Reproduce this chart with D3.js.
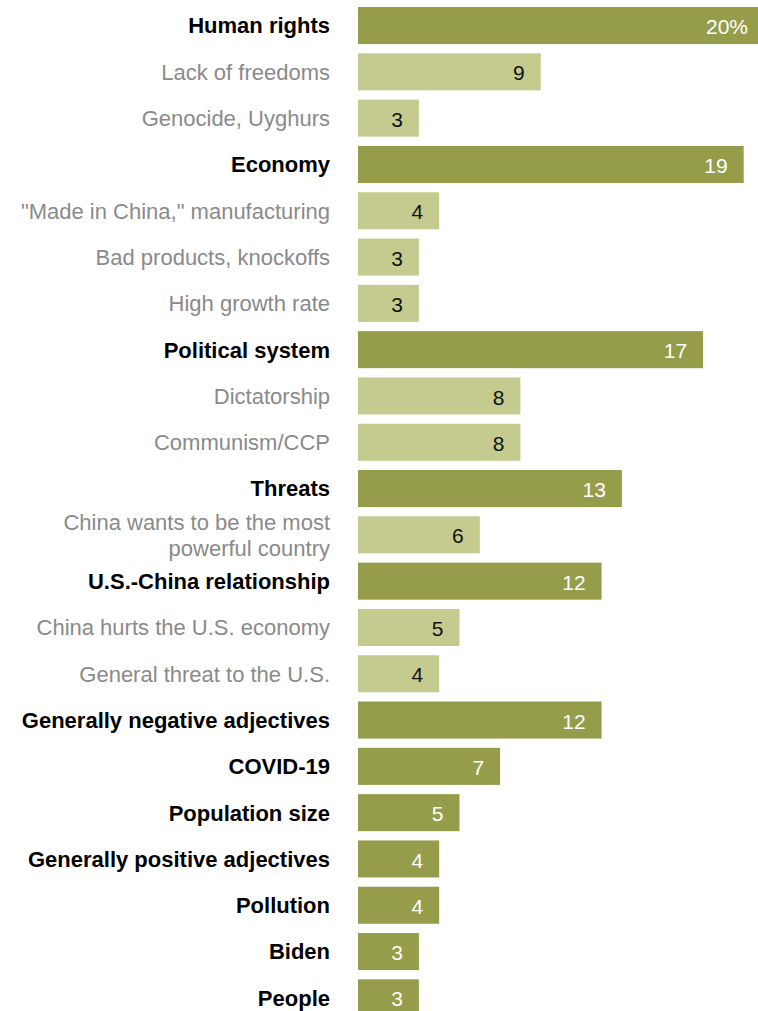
<!DOCTYPE html>
<html>
<head>
<meta charset="utf-8">
<script src="https://cdn.jsdelivr.net/npm/d3@7"></script>
<style>
  html, body { margin: 0; padding: 0; background: #fff; }
  svg { display: block; }
  .lab { font-family: "Liberation Sans", Arial, sans-serif; }
</style>
</head>
<body>
<svg id="chart" width="758" height="1011"></svg>
<script>
// Categories (top to bottom), whether each is a main topic, and the share naming it
const categories = [
  "Human rights", "Lack of freedoms", "Genocide, Uyghurs",
  "Economy", "\"Made in China,\" manufacturing", "Bad products, knockoffs", "High growth rate",
  "Political system", "Dictatorship", "Communism/CCP",
  "Threats", "China wants to be the most|powerful country",
  "U.S.-China relationship", "China hurts the U.S. economy", "General threat to the U.S.",
  "Generally negative adjectives", "COVID-19", "Population size",
  "Generally positive adjectives", "Pollution", "Biden", "People"
];
const isMain = [
  true, false, false,
  true, false, false, false,
  true, false, false,
  true, false,
  true, false, false,
  true, true, true,
  true, true, true, true
];
const values = [20, 9, 3, 19, 4, 3, 3, 17, 8, 8, 13, 6, 12, 5, 4, 12, 7, 5, 4, 4, 3, 3];

const data = categories.map((c, i) => ({ cat: c, main: isMain[i], value: values[i] }));

const svg = d3.select("#chart");
const W = 758, H = 1011;

const x = d3.scaleLinear().domain([0, 20]).range([358, 764]);
const y = d3.scaleBand()
  .domain(d3.range(data.length))
  .range([2.4, 1021])
  .paddingInner(0.2)
  .paddingOuter(0.1);

const darkFill = "#959d4a";
const lightFill = "#c5cb8f";

const clip = svg.append("defs").append("clipPath").attr("id", "plotclip");
clip.append("rect").attr("x", 0).attr("y", 0).attr("width", W).attr("height", H);

const rows = svg.append("g").attr("clip-path", "url(#plotclip)")
  .selectAll("g.row").data(data).join("g").attr("class", "row");

rows.append("rect")
  .attr("x", x(0))
  .attr("y", (d, i) => y(i))
  .attr("width", d => x(d.value) - x(0))
  .attr("height", y.bandwidth())
  .attr("fill", d => d.main ? darkFill : lightFill);

// value labels inside the bar end
rows.append("text")
  .attr("class", "lab")
  .attr("x", d => x(d.value) - 16)
  .attr("y", (d, i) => y(i) + y.bandwidth() / 2 + 1)
  .attr("dy", "0.36em")
  .attr("text-anchor", "end")
  .attr("font-size", 21)
  .attr("fill", d => d.main ? "#ffffff" : "#111111")
  .text((d, i) => i === 0 ? d.value + "%" : d.value);

// category labels
const labX = 330;
rows.append("text")
  .attr("class", "lab")
  .attr("x", labX)
  .attr("text-anchor", "end")
  .attr("font-size", 22)
  .attr("font-weight", d => d.main ? "bold" : "normal")
  .attr("fill", d => d.main ? "#000000" : "#8a8a8a")
  .each(function (d, i) {
    const lines = d.cat.split("|");
    const cy = y(i) + y.bandwidth() / 2;
    const lh = 26;
    const t = d3.select(this);
    lines.forEach((ln, k) => {
      t.append("tspan")
        .attr("x", labX)
        .attr("y", cy + (k - (lines.length - 1) / 2) * lh)
        .attr("dy", "0.36em")
        .text(ln);
    });
  });
</script>
</body>
</html>
